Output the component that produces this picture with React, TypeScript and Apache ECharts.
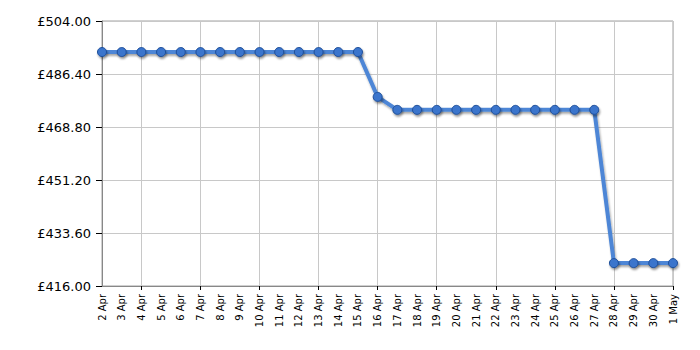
import React, { useEffect, useRef } from "react";
import * as echarts from "echarts";

const categories = [
  "2 Apr", "3 Apr", "4 Apr", "5 Apr", "6 Apr", "7 Apr", "8 Apr", "9 Apr", "10 Apr", "11 Apr",
  "12 Apr", "13 Apr", "14 Apr", "15 Apr", "16 Apr", "17 Apr", "18 Apr", "19 Apr", "20 Apr", "21 Apr",
  "22 Apr", "23 Apr", "24 Apr", "25 Apr", "26 Apr", "27 Apr", "28 Apr", "29 Apr", "30 Apr", "1 May",
];
const prices = [
  493.7, 493.7, 493.7, 493.7, 493.7, 493.7, 493.7, 493.7, 493.7, 493.7,
  493.7, 493.7, 493.7, 493.7, 478.8, 474.5, 474.5, 474.5, 474.5, 474.5,
  474.5, 474.5, 474.5, 474.5, 474.5, 474.5, 423.6, 423.6, 423.6, 423.6,
];
const yMin = 416;
const yMax = 504;
const yStep = 17.6;

export default function App() {
  const ref = useRef<HTMLDivElement>(null);
  useEffect(() => {
    if (!ref.current) return;
    const chart = echarts.init(ref.current, null, { renderer: "svg" });
    const everyThird = (i: number) => (i - 2) % 3 === 0;
    chart.setOption({
      animation: false,
      backgroundColor: "#ffffff",
      grid: { left: 102, right: 27, top: 21, bottom: 64, show: true, borderColor: "#a0a0a0", borderWidth: 1 },
      xAxis: {
        type: "category",
        data: categories,
        boundaryGap: false,
        axisLine: { show: true, lineStyle: { color: "#888888", width: 1 } },
        axisTick: { show: true, interval: everyThird, length: 4, lineStyle: { color: "#000000" } },
        splitLine: { show: true, interval: everyThird, lineStyle: { color: "#c8c8c8", width: 1 } },
        axisLabel: {
          interval: 0,
          rotate: 90,
          fontFamily: "DejaVu Sans",
          fontSize: 10,
          color: "#000000",
          margin: 8,
        },
      },
      yAxis: {
        type: "value",
        min: yMin,
        max: yMax,
        interval: yStep,
        axisLine: { show: true, lineStyle: { color: "#888888" } },
        axisTick: { show: true, length: 6, lineStyle: { color: "#000000" } },
        splitLine: { show: true, lineStyle: { color: "#c8c8c8", width: 1 } },
        axisLabel: {
          fontFamily: "DejaVu Sans",
          fontSize: 13,
          color: "#000000",
          margin: 11,
          formatter: (v: number) => "£" + v.toFixed(2),
        },
      },
      series: [
        {
          type: "line",
          data: prices,
          symbol: "circle",
          symbolSize: 9,
          lineStyle: {
            color: "#4d86d6",
            width: 4,
            shadowColor: "rgba(0,0,0,0.35)",
            shadowBlur: 2,
            shadowOffsetX: 1,
            shadowOffsetY: 2,
          },
          itemStyle: {
            color: "#3a74cc",
            borderColor: "#1f4f99",
            borderWidth: 1,
            shadowColor: "rgba(0,0,0,0.4)",
            shadowBlur: 2,
            shadowOffsetX: 1,
            shadowOffsetY: 2,
          },
        },
      ],
    });
    return () => chart.dispose();
  }, []);
  return <div ref={ref} style={{ width: 700, height: 350, margin: -8 }} />;
}
